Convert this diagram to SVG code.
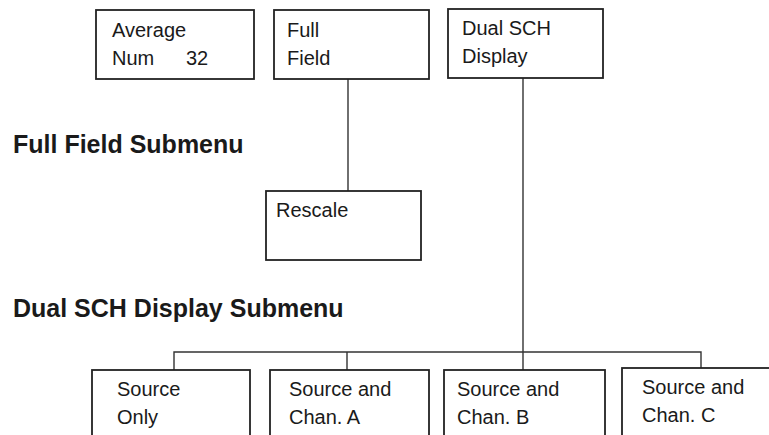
<svg xmlns="http://www.w3.org/2000/svg" width="769" height="435" viewBox="0 0 769 435">
<style>
.box{fill:#fff;stroke:#222;stroke-width:1.8}
.ln{fill:none;stroke:#333;stroke-width:1.4}
.t{font-family:"Liberation Sans",Arial,sans-serif;font-size:20px;fill:#1a1a1a}
.h{font-family:"Liberation Sans",Arial,sans-serif;font-size:25px;font-weight:bold;fill:#1a1a1a}
</style>
<rect width="769" height="435" fill="#fff"/>
<g id="connectors">
<line class="ln" x1="348" y1="79" x2="348" y2="191"/>
<line class="ln" x1="523" y1="78" x2="523" y2="370"/>
<polyline class="ln" points="174,370 174,352 701,352 701,368"/>
<line class="ln" x1="347" y1="352" x2="347" y2="370"/>
</g>
<g id="average-num">
<rect class="box" x="96" y="10" width="158" height="69"/>
<text class="t" x="112" y="37">Average</text>
<text class="t" x="112" y="65">Num</text>
<text class="t" x="186" y="65">32</text>
</g>
<g id="full-field">
<rect class="box" x="274" y="10" width="155" height="69"/>
<text class="t" x="287" y="37">Full</text>
<text class="t" x="287" y="65">Field</text>
</g>
<g id="dual-sch-display">
<rect class="box" x="448" y="9" width="155" height="69"/>
<text class="t" x="462" y="35">Dual SCH</text>
<text class="t" x="462" y="63">Display</text>
</g>
<g id="full-field-submenu-label">
<text class="h" x="13" y="153">Full Field Submenu</text>
</g>
<g id="rescale">
<rect class="box" x="266" y="191" width="155" height="69"/>
<text class="t" x="276" y="217">Rescale</text>
</g>
<g id="dual-sch-submenu-label">
<text class="h" x="13" y="317">Dual SCH Display Submenu</text>
</g>
<g id="source-only">
<rect class="box" x="92" y="370" width="158" height="80"/>
<text class="t" x="117" y="396">Source</text>
<text class="t" x="117" y="424">Only</text>
</g>
<g id="source-chan-a">
<rect class="box" x="270" y="370" width="159" height="80"/>
<text class="t" x="289" y="396">Source and</text>
<text class="t" x="289" y="424">Chan. A</text>
</g>
<g id="source-chan-b">
<rect class="box" x="444" y="370" width="161" height="80"/>
<text class="t" x="457" y="396">Source and</text>
<text class="t" x="457" y="424">Chan. B</text>
</g>
<g id="source-chan-c">
<rect class="box" x="622" y="368" width="160" height="82"/>
<text class="t" x="642" y="394">Source and</text>
<text class="t" x="642" y="422">Chan. C</text>
</g>
</svg>
